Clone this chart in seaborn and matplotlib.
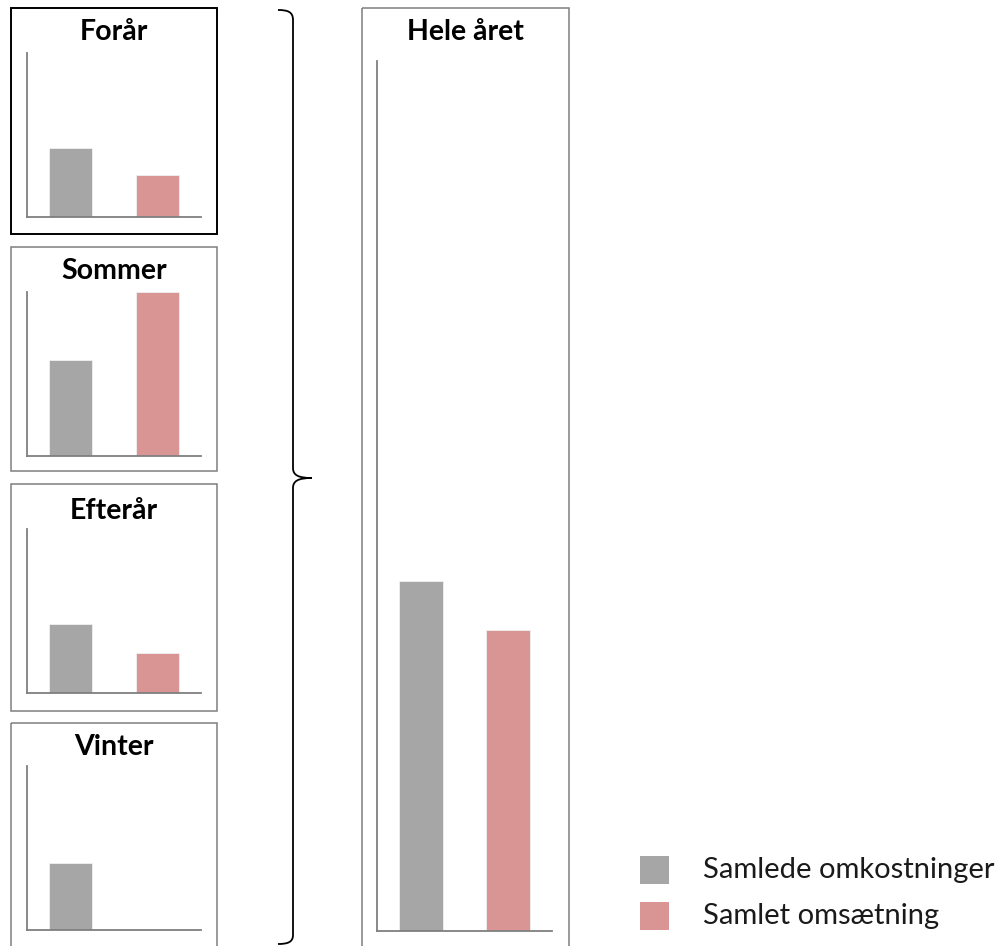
import matplotlib
matplotlib.use("Agg")
import matplotlib.pyplot as plt
import seaborn as sns
import pandas as pd
from matplotlib.patches import Rectangle, PathPatch
from matplotlib.path import Path

# ---- data (arbitrary units) ----
seasons = ["Forår", "Sommer", "Efterår", "Vinter"]
series = ["Samlede omkostninger", "Samlet omsætning"]
season_costs = [69, 96, 69, 67]
season_revenue = [42, 164, 40, 0]
annual_title = "Hele året"
annual_costs = 350
annual_revenue = 301
colors = ["#A6A6A6", "#D99594"]

W, H = 1007, 946
sns.set_theme(style="white")
plt.rcParams["font.family"] = ["Lato", "DejaVu Sans"]

fig = plt.figure(figsize=(W / 100, H / 100), dpi=100)

# full-figure overlay in pixel coordinates for frames, brace, titles, legend
bg = fig.add_axes([0, 0, 1, 1], zorder=0)
bg.set_xlim(0, W)
bg.set_ylim(H, 0)
bg.axis("off")


def frac(l, t, r, b):
    return [l / W, 1 - b / H, (r - l) / W, (b - t) / H]


def panel(ax, vals, ymax):
    df = pd.DataFrame({"serie": series, "vaerdi": vals})
    sns.barplot(data=df, x="serie", y="vaerdi", hue="serie", palette=colors,
                saturation=1, width=0.5, legend=False, ax=ax,
                edgecolor="#f0f0f0", linewidth=0.6)
    ax.set_xlim(-0.5, 1.5)
    ax.set_ylim(0, ymax)
    ax.set_xticks([])
    ax.set_yticks([])
    ax.set_xlabel("")
    ax.set_ylabel("")
    for s in ["top", "right"]:
        ax.spines[s].set_visible(False)
    for s in ["left", "bottom"]:
        ax.spines[s].set_color("#7f7f7f")
        ax.spines[s].set_linewidth(1.3)
    ax.patch.set_alpha(0)


AX_H = 164
box_tops = [8, 247, 484, 723]
box_bottoms = [234, 471, 711, 960]
baselines = [217, 456, 693, 930]
title_y = [32, 271, 511, 747]
TITLE_FS = 20.5

for i, name in enumerate(seasons):
    ec = "black" if i == 0 else "#7f7f7f"
    lw = 1.4 if i == 0 else 1.1
    bg.add_patch(Rectangle((11, box_tops[i]), 206, box_bottoms[i] - box_tops[i],
                           fill=False, edgecolor=ec, linewidth=lw))
    bg.text(114, title_y[i], name, ha="center", va="center",
            fontsize=TITLE_FS, fontweight="bold", color="black")
    ax = fig.add_axes(frac(27, baselines[i] - AX_H, 201, baselines[i]), zorder=2)
    panel(ax, [season_costs[i], season_revenue[i]], AX_H)

# annual panel
bg.add_patch(Rectangle((362, 8), 207, 960, fill=False, edgecolor="#7f7f7f",
                       linewidth=1.1))
bg.text(465.5, 32, annual_title, ha="center", va="center", fontsize=TITLE_FS,
        fontweight="bold", color="black")
ax = fig.add_axes(frac(377, 61, 552, 931), zorder=2)
panel(ax, [annual_costs, annual_revenue], 931 - 61)

# brace
verts = [(278, 10), (288, 10), (293, 12), (293, 20),
         (293, 468),
         (293, 475), (298, 478), (312, 478),
         (298, 478), (293, 481), (293, 488),
         (293, 935),
         (293, 942), (288, 944), (278, 944)]
codes = [Path.MOVETO, Path.CURVE4, Path.CURVE4, Path.CURVE4,
         Path.LINETO,
         Path.CURVE4, Path.CURVE4, Path.CURVE4,
         Path.CURVE4, Path.CURVE4, Path.CURVE4,
         Path.LINETO,
         Path.CURVE4, Path.CURVE4, Path.CURVE4]
bg.add_patch(PathPatch(Path(verts, codes), fill=False, edgecolor="black",
                       linewidth=1.3))

# legend
for j, (lab, c) in enumerate(zip(series, colors)):
    y0 = 856 + j * 46
    bg.add_patch(Rectangle((640, y0), 29, 28, facecolor=c, edgecolor="none"))
    bg.text(703, y0 + 14, lab, ha="left", va="center", fontsize=21,
            color="#1a1a1a")

fig.savefig("out.png", dpi=100)
